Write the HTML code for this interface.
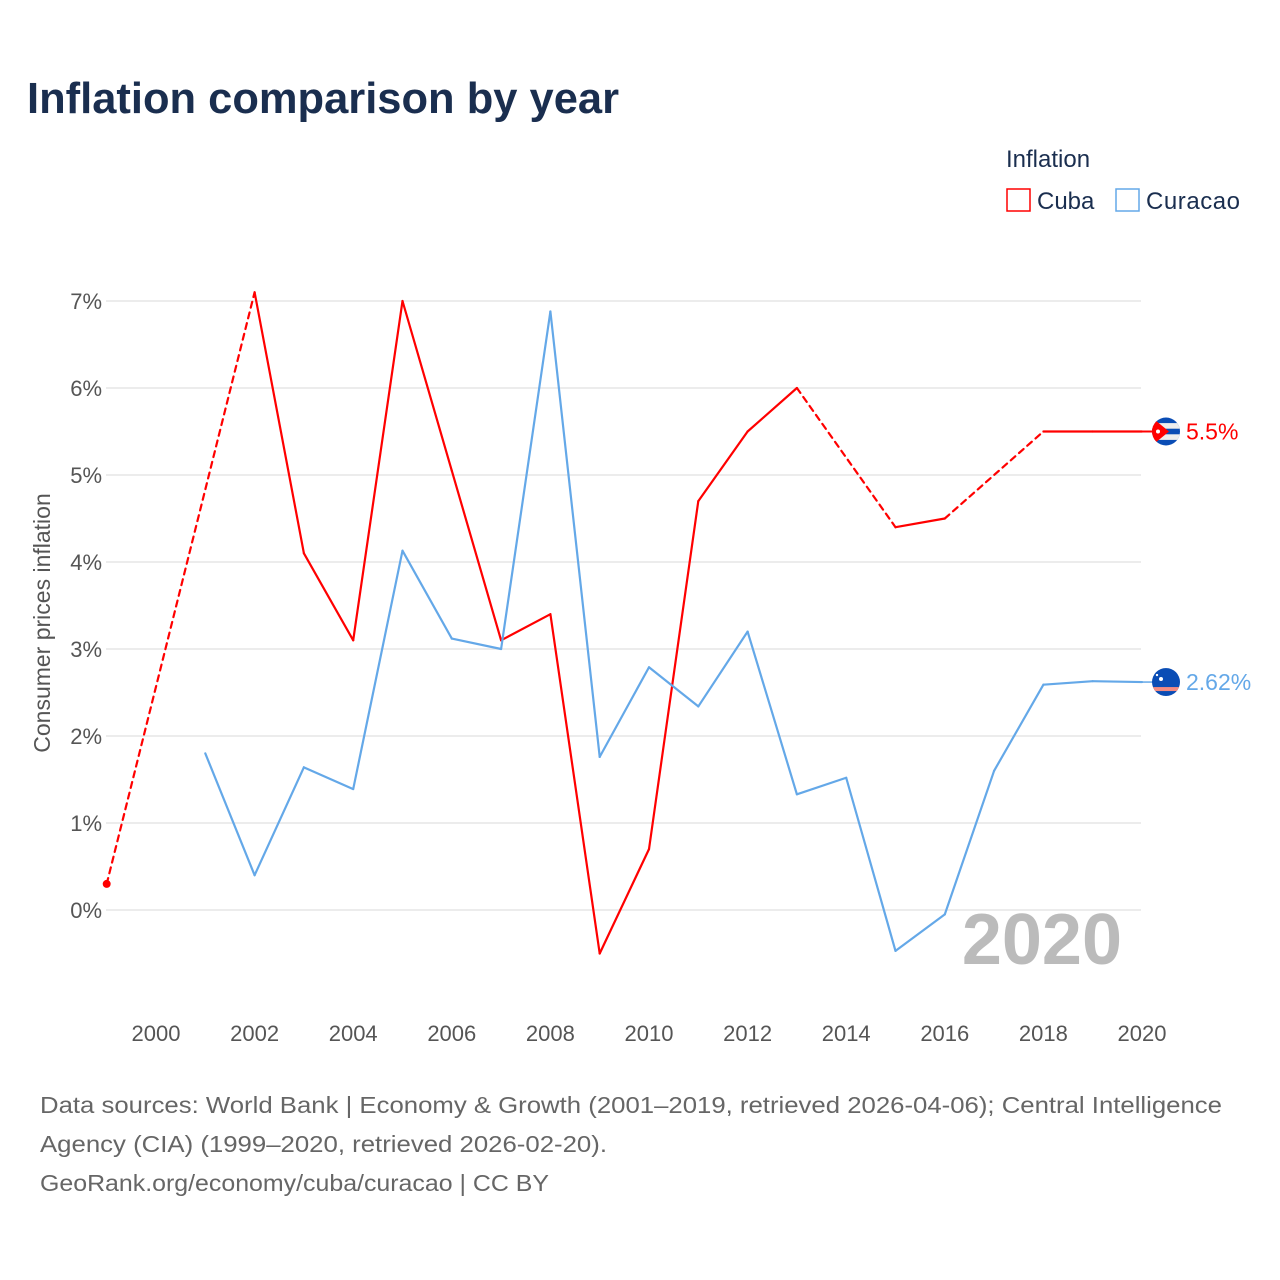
<!DOCTYPE html>
<html><head><meta charset="utf-8">
<style>
body{margin:0;background:#fff;font-family:"Liberation Sans",sans-serif;}
#wrap{position:relative;width:1280px;height:1280px;overflow:hidden;}
</style></head>
<body>
<div id="wrap">
<svg id="chart" width="1280" height="1280" xmlns="http://www.w3.org/2000/svg"></svg>
</div>
<script>
const years=[1999,2000,2001,2002,2003,2004,2005,2006,2007,2008,2009,2010,2011,2012,2013,2014,2015,2016,2017,2018,2019,2020];
const cuba=[0.3,null,null,7.1,4.1,3.1,7.0,5.05,3.1,3.4,-0.5,0.7,4.7,5.5,6.0,null,4.4,4.5,null,5.5,5.5,5.5];
const curacao=[null,null,1.8,0.4,1.64,1.39,4.13,3.12,3.0,6.88,1.76,2.79,2.34,3.2,1.33,1.52,-0.47,-0.05,1.6,2.59,2.63,2.62];
const yTicks=[0,1,2,3,4,5,6,7];
const xTicks=[2000,2002,2004,2006,2008,2010,2012,2014,2016,2018,2020];
const NS="http://www.w3.org/2000/svg";
const svg=document.getElementById('chart');
function x(yr){return 156+(yr-2000)*49.3;}
function y(v){return 910-v*87;}
function el(t,a,p){const e=document.createElementNS(NS,t);for(const k in a)e.setAttribute(k,a[k]);(p||svg).appendChild(e);return e;}
function txt(s,a){const e=el('text',a);e.textContent=s;return e;}
let t=txt('Inflation comparison by year',{x:27,y:113,'font-size':44,'font-weight':'bold',fill:'#1a2e4f',textLength:592,lengthAdjust:'spacingAndGlyphs'});

for(const v of yTicks){
 const g=el('line',{x1:106,x2:1141,y1:y(v),y2:y(v),stroke:'#e6e6e6','stroke-width':1.5});
 
 const l=txt(v+'%',{x:102,y:y(v)+8,'font-size':22,fill:'#555','text-anchor':'end'});
 
}
for(const v of xTicks){
 const l=txt(String(v),{x:x(v),y:1041,'font-size':22,fill:'#555','text-anchor':'middle'});
 
}
t=txt('Consumer prices inflation',{x:0,y:0,'font-size':23,fill:'#555','text-anchor':'middle',transform:'translate(50,623) rotate(-90)'});

t=txt('2020',{x:1122,y:964,'font-size':72,'font-weight':'bold',fill:'#bbb','text-anchor':'end'});

function drawSeries(vals,color,name){
 let prev=-1;
 for(let i=0;i<vals.length;i++){
  if(vals[i]===null)continue;
  if(prev>=0){
   const dashed=i-prev>1;
   const s=el('line',{x1:x(years[prev]),y1:y(vals[prev]),x2:x(years[i]),y2:y(vals[i]),stroke:color,'stroke-width':2.2,'stroke-dasharray':dashed?'6,5':'none','stroke-linecap':'round'});
   
  }
  prev=i;
 }
}
drawSeries(cuba,'#ff0000','cuba-line');
drawSeries(curacao,'#64a8e8','curacao-line');
let d=el('circle',{cx:x(1999),cy:y(cuba[0]),r:4,fill:'#ff0000'});

const lastC=cuba[cuba.length-1],lastK=curacao[curacao.length-1];
let cl=el('line',{x1:x(2020),x2:1155,y1:y(lastC),y2:y(lastC),stroke:'#ff0000','stroke-width':2});

cl=el('line',{x1:x(2020),x2:1155,y1:y(lastK),y2:y(lastK),stroke:'#64a8e8','stroke-width':1.5});

const defs=el('defs',{});
const cp1=el('clipPath',{id:'c1'},defs);el('circle',{cx:1166,cy:y(lastC),r:14},cp1);
const cp2=el('clipPath',{id:'c2'},defs);el('circle',{cx:1166,cy:y(lastK),r:14},cp2);
let f=el('g',{'clip-path':'url(#c1)'});
const cy=y(lastC);
el('rect',{x:1152,y:cy-14,width:28,height:28,fill:'#0a4db5'},f);
el('rect',{x:1152,y:cy-8.4,width:28,height:5.6,fill:'#eee'},f);
el('rect',{x:1152,y:cy+2.8,width:28,height:5.6,fill:'#eee'},f);
el('polygon',{points:`1152,${cy-14} 1169,${cy} 1152,${cy+14}`,fill:'#ff0000'},f);
el('circle',{cx:1158,cy:cy,r:2,fill:'#fff'},f);
f=el('g',{'clip-path':'url(#c2)'});
const ky=y(lastK);
el('rect',{x:1152,y:ky-14,width:28,height:28,fill:'#0a4db5'},f);
el('rect',{x:1152,y:ky+5,width:28,height:4,fill:'#f28b82'},f);
el('circle',{cx:1161,cy:ky-3,r:2,fill:'#fff'},f);
el('circle',{cx:1157,cy:ky-7,r:1.2,fill:'#fff'},f);
t=txt(lastC+'%',{x:1186,y:cy+8,'font-size':23,fill:'#ff0000'});

t=txt(lastK+'%',{x:1186,y:ky+8,'font-size':23,fill:'#64a8e8'});

t=txt('Inflation',{x:1006,y:167,'font-size':24,fill:'#1a2e4f'});

let lg=el('g',{});
el('rect',{x:1007,y:189,width:23,height:22,fill:'none',stroke:'#ff0000','stroke-width':1.5},lg);
let lt=el('text',{x:1037,y:209,'font-size':24,fill:'#1a2e4f'},lg);lt.textContent='Cuba';
lg=el('g',{});
el('rect',{x:1116,y:189,width:23,height:22,fill:'none',stroke:'#64a8e8','stroke-width':1.5},lg);
lt=el('text',{x:1146,y:209,'font-size':24,fill:'#1a2e4f',textLength:94},lg);lt.textContent='Curacao';
const foot=['Data sources: World Bank | Economy & Growth (2001–2019, retrieved 2026-04-06); Central Intelligence','Agency (CIA) (1999–2020, retrieved 2026-02-20).','GeoRank.org/economy/cuba/curacao | CC BY'];
const footW=[1182,567,509];
foot.forEach((s,i)=>{const e=txt(s,{x:40,y:1113+i*39,'font-size':23,fill:'#666',textLength:footW[i],lengthAdjust:'spacingAndGlyphs'});
});
</script>
</body></html>
